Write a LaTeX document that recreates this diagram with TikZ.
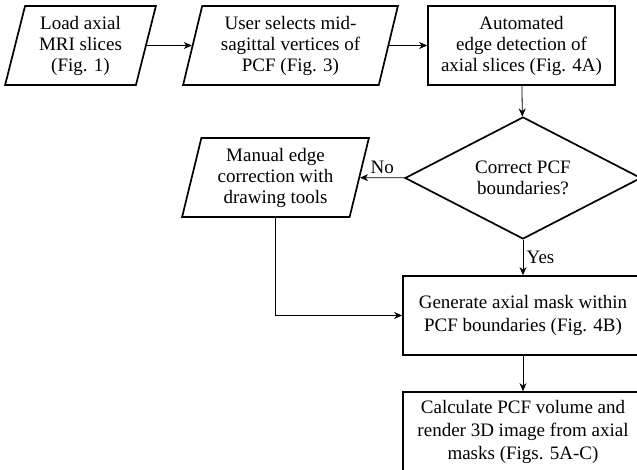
\documentclass[tikz,border=0pt]{standalone}
\usepackage{fontspec}
\setmainfont{Liberation Serif}
\usetikzlibrary{shapes.geometric,arrows.meta}
\begin{document}
\begin{tikzpicture}[x=1pt,y=-1pt,
  txt/.style={font=\fontsize{19}{21}\selectfont},
  box/.style={draw,line width=1.7pt,align=center,txt,minimum height=79pt,inner sep=1pt},
  para/.style={box,trapezium,trapezium left angle=76,trapezium right angle=104,trapezium stretches=true},
  rbox/.style={box,rectangle},
  dec/.style={box,diamond,aspect=2,inner sep=0pt,minimum width=236pt,minimum height=122pt},
  conn/.style={line width=0.8pt,-{Stealth[length=8pt,width=7pt,inset=2.5pt]}},
  lbl/.style={txt}
]
\useasboundingbox (0,0) rectangle (637,470);
\node[para,minimum width=151pt] (load) at (80.5,45.5) {Load axial\\MRI slices\\(Fig. 1)};
\node[para,minimum width=215pt] (user) at (290.5,45.5) {User selects mid-\\sagittal vertices of\\PCF (Fig. 3)};
\node[rbox,minimum width=187pt] (auto) at (521.5,45.5) {Automated\\edge detection of\\axial slices (Fig. 4A)};
\node[dec] (dec) at (523,178) {Correct PCF\\boundaries?};
\node[para,minimum width=187pt] (man) at (275.5,177.5) {Manual edge\\correction with\\drawing tools};
\node[rbox,minimum width=240pt] (gen) at (523,315.5) {Generate axial mask within\\[2pt]PCF boundaries (Fig. 4B)};
\node[rbox,minimum width=240pt,minimum height=80pt] (calc) at (523,432) {Calculate PCF volume and\\[2pt]render 3D image from axial\\[2pt]masks (Figs. 5A-C)};
\draw[conn] (load) -- (user);
\draw[conn] (user) -- (auto);
\draw[conn] (auto) -- (dec);
\draw[conn] (dec) -- node[lbl,above,pos=0.5] {No} (man);
\draw[conn] (dec) -- node[lbl,right] {Yes} (gen);
\draw[conn] (man.south) |- (gen.west);
\draw[conn] (gen) -- (calc);
\end{tikzpicture}
\end{document}
